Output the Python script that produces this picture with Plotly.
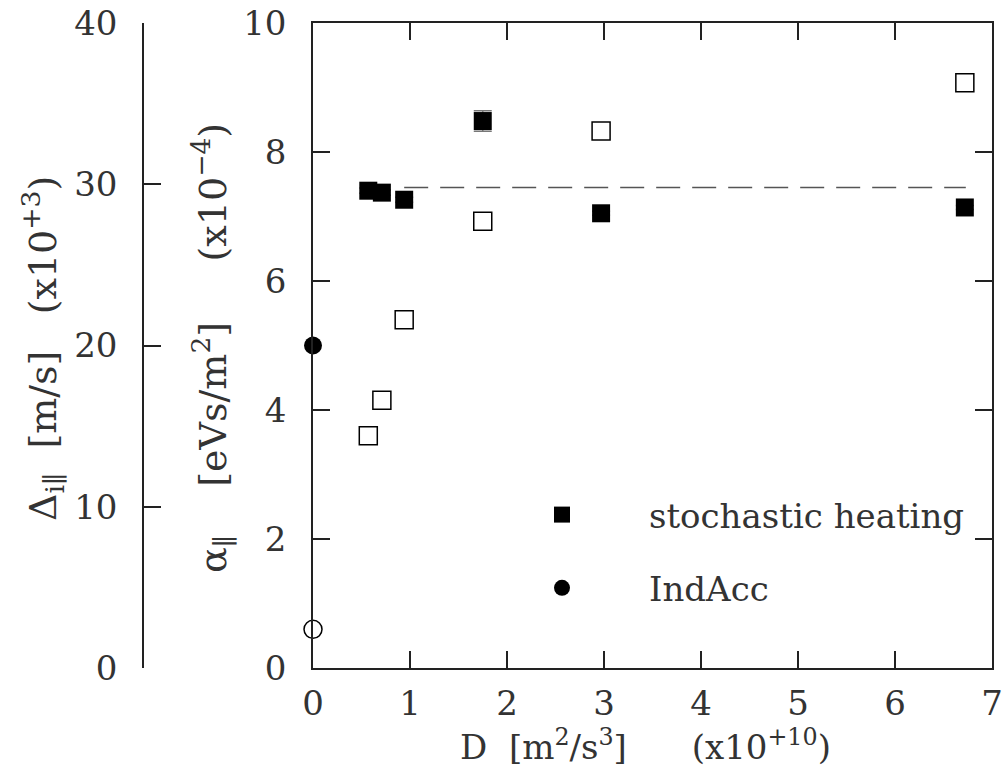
import plotly.graph_objects as go

# ---- data ----
D_stoch = [0.57, 0.71, 0.94, 1.75, 2.97, 6.72]          # x10^10 m^2/s^3
alpha_stoch = [7.40, 7.37, 7.26, 8.48, 7.05, 7.14]       # x10^-4 eVs/m^2
alpha_err = [0.04, 0.04, 0.04, 0.16, 0.03, 0.03]
delta_stoch = [14.4, 16.6, 21.6, 27.7, 33.3, 36.3]       # x10^3 m/s

D_ind = [0.0]
alpha_ind = [5.0]
delta_ind = [2.4]

D_mean = [0.94, 6.73]
alpha_mean = [7.45, 7.45]

x_ticks = [0, 1, 2, 3, 4, 5, 6, 7]
alpha_ticks = [0, 2, 4, 6, 8, 10]
delta_ticks = [0, 10, 20, 30, 40]

FONT = "DejaVu Serif"
FS = 34
FT = 38
AX = "#222222"
TXT = "#333333"
S = "\u00a0"

fig = go.Figure()

fig.add_trace(go.Scatter(
    x=D_mean, y=alpha_mean, mode="lines",
    line=dict(color="#555555", width=1.6, dash="24px,12px"),
    showlegend=False, hoverinfo="skip"))

fig.add_trace(go.Scatter(
    x=D_stoch, y=delta_stoch, yaxis="y2", mode="markers",
    marker=dict(symbol="square-open", size=18, color="black", line=dict(width=1.5)),
    showlegend=False, cliponaxis=False))

fig.add_trace(go.Scatter(
    x=D_ind, y=delta_ind, yaxis="y2", mode="markers",
    marker=dict(symbol="circle-open", size=18, color="black", line=dict(width=1.5)),
    showlegend=False, cliponaxis=False))

fig.add_trace(go.Scatter(
    x=D_stoch, y=alpha_stoch, mode="markers", name="stochastic heating",
    legendgroup="a",
    marker=dict(symbol="square", size=18, color="black"),
    error_y=dict(type="data", array=alpha_err, color="#777777", thickness=1.5, width=9),
    cliponaxis=False))

fig.add_trace(go.Scatter(
    x=D_ind, y=alpha_ind, mode="markers", name="IndAcc",
    legendgroup="b",
    marker=dict(symbol="circle", size=18, color="black"),
    cliponaxis=False))

W, H = 1002, 774
ml, mr, mt, mb = 143, 10, 23, 106
pw = W - ml - mr
ph = H - mt - mb
x0 = (313 - ml) / pw

axis_common = dict(
    showline=True, linecolor=AX, linewidth=1.5,
    ticks="inside", ticklen=17, tickwidth=1.5, tickcolor=AX,
    showgrid=False, zeroline=False, automargin=False,
    ticklabeloverflow="allow",
    tickfont=dict(family=FONT, size=FS, color=TXT),
)

fig.update_layout(
    width=W, height=H,
    margin=dict(l=ml, r=mr, t=mt, b=mb, autoexpand=False),
    plot_bgcolor="white", paper_bgcolor="white",
    font=dict(family=FONT, size=FS, color=TXT),
    xaxis=dict(domain=[x0, 1], range=[0, 7], tickvals=x_ticks,
               mirror="ticks", ticklabelstandoff=4, **axis_common),
    yaxis=dict(range=[0, 10], tickvals=alpha_ticks, mirror="ticks",
               ticklabelstandoff=18, **axis_common),
    yaxis2=dict(range=[0, 40], tickvals=delta_ticks, overlaying="y",
                anchor="free", position=0, ticklabelstandoff=18, **axis_common),
    legend=dict(x=(475 - ml) / pw, xanchor="left", y=(668 - 486) / ph, yanchor="top",
                bgcolor="rgba(0,0,0,0)", font=dict(family=FONT, size=34, color=TXT),
                itemwidth=164, traceorder="grouped", tracegroupgap=26),
    showlegend=True,
)

fig.add_annotation(
    text="D" + S * 2 + "[m<sup>2</sup>/s<sup>3</sup>]" + S * 6 + "(x10<sup>+10</sup>)",
    xref="paper", yref="paper", x=(645 - ml) / pw, y=-(745 - 668) / ph,
    xanchor="center", yanchor="middle", showarrow=False,
    font=dict(family=FONT, size=FS, color=TXT))

fig.add_annotation(
    text="\u0394<sub>i\u2225</sub>" + S * 2 + "[m/s]" + S * 3 + "(x10<sup>+3</sup>)",
    xref="paper", yref="paper", x=-(ml - 42) / pw, y=(668 - 349) / ph,
    xanchor="center", yanchor="middle", textangle=-90, showarrow=False,
    font=dict(family=FONT, size=FT, color=TXT))

fig.add_annotation(
    text="\u03b1<sub>\u2225</sub>" + S * 4 + "[eVs/m<sup>2</sup>]" + S * 5 + "(x10<sup>\u22124</sup>)",
    xref="paper", yref="paper", x=(212 - ml) / pw, y=(668 - 348) / ph,
    xanchor="center", yanchor="middle", textangle=-90, showarrow=False,
    font=dict(family=FONT, size=FT, color=TXT))

fig.write_html("out.html")
